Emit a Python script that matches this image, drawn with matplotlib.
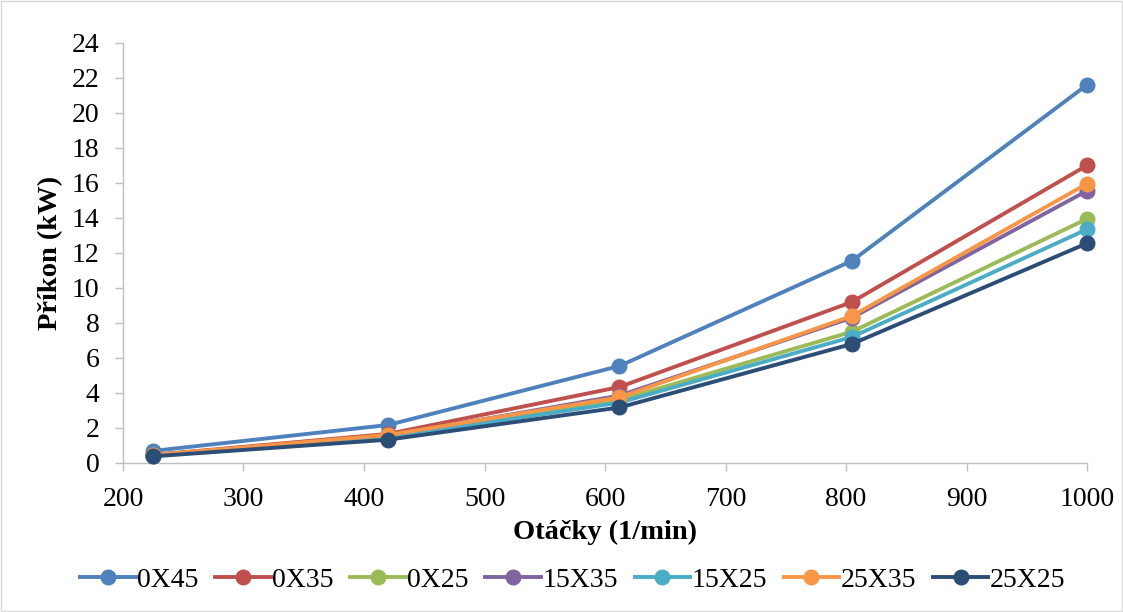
import numpy as np
import matplotlib.pyplot as plt
from matplotlib.patches import Rectangle

plt.rcParams['font.family'] = ['Liberation Serif', 'DejaVu Serif']

# ==========================================
# Data
# ==========================================
rpm = [225, 420, 612, 805, 1000]

series_names = ['0X45', '0X35', '0X25', '15X35', '15X25', '25X35', '25X25']
p_0x45 = [0.69, 2.17, 5.54, 11.55, 21.6]
p_0x35 = [0.46, 1.66, 4.34, 9.2, 17.0]
p_0x25 = [0.43, 1.5, 3.6, 7.5, 13.95]
p_15x35 = [0.45, 1.55, 3.85, 8.3, 15.55]
p_15x25 = [0.42, 1.45, 3.45, 7.2, 13.35]
p_25x35 = [0.45, 1.6, 3.75, 8.4, 15.95]
p_25x25 = [0.38, 1.33, 3.17, 6.8, 12.55]

colors = ['#4F81BD', '#C0504D', '#9BBB59', '#8064A2', '#4BACC6', '#F79646', '#2C4D75']
values = [p_0x45, p_0x35, p_0x25, p_15x35, p_15x25, p_25x35, p_25x25]

# ==========================================
# Plot
# ==========================================
fig = plt.figure(figsize=(11.23, 6.12), dpi=100)
ax = fig.add_axes([0.1095, 0.2435, 0.8585, 0.6865])

for name, vals, col in zip(series_names, values, colors):
    ax.plot(rpm, vals, color=col, linewidth=2.8, marker='o', markersize=10.5,
            label=name, zorder=3, clip_on=False)

ax.set_xlim(200, 1000)
ax.set_ylim(0, 24)
ax.set_xticks(np.arange(200, 1001, 100))
ax.set_yticks(np.arange(0, 25, 2))
ax.tick_params(axis='both', labelsize=20, direction='out', length=6,
               color='#BFBFBF', width=1)
ax.tick_params(axis='x', pad=11)
ax.tick_params(axis='y', pad=11)

for side in ['top', 'right']:
    ax.spines[side].set_visible(False)
for side in ['left', 'bottom']:
    ax.spines[side].set_color('#BFBFBF')
    ax.spines[side].set_linewidth(1)

ax.set_xlabel('Otáčky (1/min)', fontsize=20.5, fontweight='bold', labelpad=6)
ax.set_ylabel('Příkon (kW)', fontsize=20.5, fontweight='bold', labelpad=6)

leg = fig.legend(loc='center', bbox_to_anchor=(0.51, 0.052), ncol=7, frameon=False,
                 fontsize=20, handlelength=2.0, handletextpad=0.05, columnspacing=0.6,
                 borderaxespad=0)

# chart outer border
fig.patches.append(Rectangle((0.001, 0.001), 0.998, 0.998, transform=fig.transFigure,
                             fill=False, edgecolor='#D9D9D9', linewidth=1))

fig.savefig('out.png', dpi=100)
